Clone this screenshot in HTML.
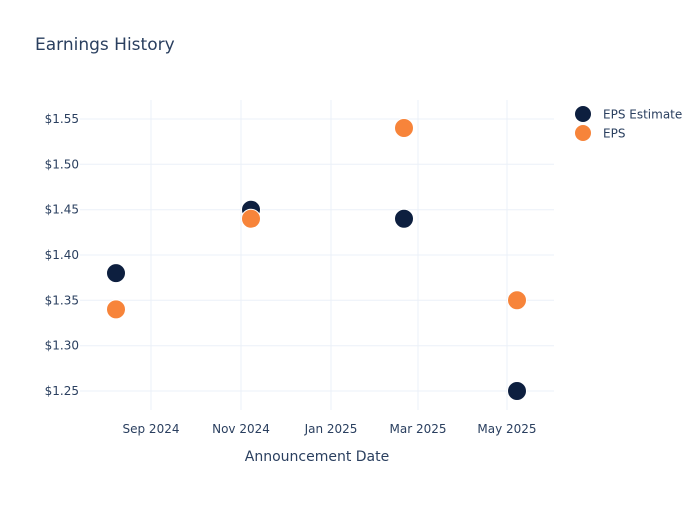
<!DOCTYPE html>
<html><head><meta charset="utf-8"><style>
body{margin:0;background:#fff;}
svg text{font-family:"DejaVu Sans","Liberation Sans",sans-serif;fill:#2a3f5f;}
</style></head><body>
<svg width="700" height="500" xmlns="http://www.w3.org/2000/svg">
<rect width="700" height="500" fill="#fff"/>
<text x="35" y="50" font-size="17">Earnings History</text>
<g stroke="#ebf0f8" stroke-width="1">
<line x1="80" x2="554" y1="119" y2="119"/>
<line x1="80" x2="554" y1="164.3" y2="164.3"/>
<line x1="80" x2="554" y1="209.7" y2="209.7"/>
<line x1="80" x2="554" y1="255" y2="255"/>
<line x1="80" x2="554" y1="300.3" y2="300.3"/>
<line x1="80" x2="554" y1="345.7" y2="345.7"/>
<line x1="80" x2="554" y1="391" y2="391"/>
<line y1="100" y2="410" x1="151" x2="151"/>
<line y1="100" y2="410" x1="241" x2="241"/>
<line y1="100" y2="410" x1="331" x2="331"/>
<line y1="100" y2="410" x1="418" x2="418"/>
<line y1="100" y2="410" x1="507" x2="507"/>
</g>
<g font-size="12" text-anchor="end">
<text x="79" y="123">$1.55</text>
<text x="79" y="168.3">$1.50</text>
<text x="79" y="213.7">$1.45</text>
<text x="79" y="259">$1.40</text>
<text x="79" y="304.3">$1.35</text>
<text x="79" y="349.7">$1.30</text>
<text x="79" y="395">$1.25</text>
</g>
<g font-size="12" text-anchor="middle">
<text x="151" y="433">Sep 2024</text>
<text x="241" y="433">Nov 2024</text>
<text x="331" y="433">Jan 2025</text>
<text x="418" y="433">Mar 2025</text>
<text x="507" y="433">May 2025</text>
<text x="317" y="461" font-size="14">Announcement Date</text>
</g>
<g fill="#0d1f3f" stroke="#fff" stroke-width="1">
<circle cx="116" cy="273.1" r="9.5"/>
<circle cx="251" cy="209.7" r="9.5"/>
<circle cx="404" cy="218.7" r="9.5"/>
<circle cx="517" cy="391" r="9.5"/>
</g>
<g fill="#f7843a" stroke="#fff" stroke-width="1">
<circle cx="116" cy="309.4" r="9.5"/>
<circle cx="251" cy="218.7" r="9.5"/>
<circle cx="404" cy="128" r="9.5"/>
<circle cx="517" cy="300.3" r="9.5"/>
</g>
<circle cx="583" cy="114" r="8" fill="#0d1f3f"/>
<circle cx="583" cy="133" r="8" fill="#f7843a"/>
<text x="603" y="118.5" font-size="12">EPS Estimate</text>
<text x="603" y="137.5" font-size="12">EPS</text>
</svg>
</body></html>
